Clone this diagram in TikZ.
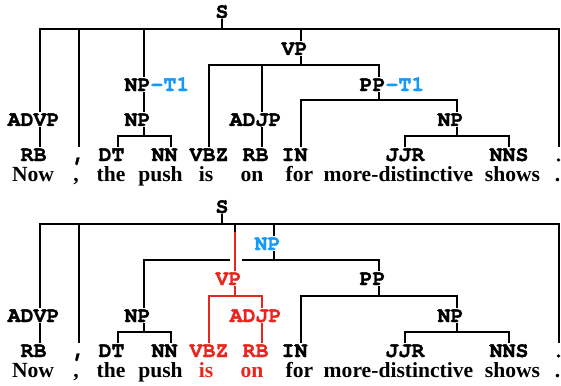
\documentclass[tikz,border=0pt]{standalone}
\usepackage{fontspec}
\usetikzlibrary{calc}
\newfontfamily\labfam{TeX Gyre Cursor}[BoldFeatures={FakeBold=1.5}]
\newfontfamily\wrdfam{Liberation Serif}
\newcommand\labfont{\labfam\bfseries\fontsize{10.8}{12}\selectfont}
\newcommand\wrdfont{\wrdfam\bfseries\fontsize{10.8}{12}\selectfont}
\newcommand\ev[1]{#1\phantom{X}}
\definecolor{tblue}{RGB}{20,155,250}
\definecolor{tred}{RGB}{232,38,30}
\tikzset{
  lab/.style={font=\labfont, inner sep=0.5pt, text height=6.5pt, text depth=0pt, anchor=base},
  wd/.style={font=\wrdfont, inner sep=0pt, anchor=base},
  edge/.style={line width=1pt},
}
\begin{document}
\begin{tikzpicture}[x=0.5pt,y=-0.5pt]
\useasboundingbox (0,0) rectangle (561,385);
% ---------------- top tree ----------------
\node[lab] (S1) at (222,18) {S};
\node[lab] (advp1) at (40,126) {\ev{ADVP}};
\node[lab] (comma1) at (79,161) {,};
\node[lab] (np1t) at (144,91) {\ev{NP\rlap{\color{tblue}-T1}}};
\node[lab] (vp1) at (301,55) {\ev{VP}};
\node[lab] (per1) at (558.5,161) {\makebox[0pt]{.}};
\node[lab] (np1) at (144,126) {\ev{NP}};
\node[lab] (vbz1) at (209,161) {VBZ};
\node[lab] (adjp1) at (262,126) {\ev{ADJP}};
\node[lab] (pp1t) at (379,91) {\ev{PP\rlap{\color{tblue}-T1}}};
\node[lab] (rb1) at (40,161) {\ev{RB}};
\node[lab] (dt1) at (118,161) {\ev{DT}};
\node[lab] (nn1) at (171,161) {\ev{NN}};
\node[lab] (rb1b) at (262,161) {\ev{RB}};
\node[lab] (in1) at (301,161) {\ev{IN}};
\node[lab] (np1b) at (457,126) {\ev{NP}};
\node[lab] (jjr1) at (405,161) {JJR};
\node[lab] (nns1) at (509,161) {NNS};
% words
\node[wd] (w1a) at (33,181) {Now};
\node[wd] (w1b) at (76,181) {,};
\node[wd] (w1c) at (111,181) {the};
\node[wd] (w1d) at (160.5,181) {push};
\node[wd] (w1e) at (206,181) {is};
\node[wd] (w1f) at (252,181) {on};
\node[wd] (w1g) at (299.5,181) {for};
\node[wd] (w1h) at (398.5,181) {more-distinctive};
\node[wd] (w1i) at (512.5,181) {shows};
\node[wd] (w1j) at (557.5,181) {.};
% edges
\draw[edge] (S1.south) -- ++(0,10) coordinate (b1);
\foreach \c in {advp1,comma1,np1t,vp1,per1} \draw[edge] (b1) -| (\c.north);
\draw[edge] (advp1.south) -- (rb1.north);
\draw[edge] (np1t.south) -- (np1.north);
\draw[edge] (np1.south) -- ++(0,9) coordinate (b2);
\foreach \c in {dt1,nn1} \draw[edge] (b2) -| (\c.north);
\draw[edge] (vp1.south) -- ++(0,9) coordinate (b3);
\foreach \c in {vbz1,adjp1,pp1t} \draw[edge] (b3) -| (\c.north);
\draw[edge] (adjp1.south) -- (rb1b.north);
\draw[edge] (pp1t.south) -- ++(0,8) coordinate (b4);
\foreach \c in {in1,np1b} \draw[edge] (b4) -| (\c.north);
\draw[edge] (np1b.south) -- ++(0,9) coordinate (b5);
\foreach \c in {jjr1,nns1} \draw[edge] (b5) -| (\c.north);
% ---------------- bottom tree ----------------
\node[lab] (S2) at (222,213) {S};
\node[lab] (advp2) at (40,322) {\ev{ADVP}};
\node[lab] (comma2) at (79,357) {,};
\node[lab,text=tred] (vp2) at (235,285) {\ev{VP}};
\node[lab,text=tblue] (npB) at (274,250) {\ev{NP}};
\node[lab] (per2) at (558.5,357) {\makebox[0pt]{.}};
\node[lab] (np2) at (144,322) {\ev{NP}};
\node[lab] (pp2) at (379,285) {\ev{PP}};
\node[lab] (rb2) at (40,357) {\ev{RB}};
\node[lab] (dt2) at (118,357) {\ev{DT}};
\node[lab] (nn2) at (171,357) {\ev{NN}};
\node[lab,text=tred] (vbz2) at (209,357) {VBZ};
\node[lab,text=tred] (adjp2) at (262,322) {\ev{ADJP}};
\node[lab,text=tred] (rb2b) at (262,357) {\ev{RB}};
\node[lab] (in2) at (301,357) {\ev{IN}};
\node[lab] (np2b) at (457,322) {\ev{NP}};
\node[lab] (jjr2) at (405,357) {JJR};
\node[lab] (nns2) at (509,357) {NNS};
% words
\node[wd] (w2a) at (33,377) {Now};
\node[wd] (w2b) at (76,377) {,};
\node[wd] (w2c) at (111,377) {the};
\node[wd] (w2d) at (160.5,377) {push};
\node[wd,text=tred] (w2e) at (206,377) {is};
\node[wd,text=tred] (w2f) at (252,377) {on};
\node[wd] (w2g) at (299.5,377) {for};
\node[wd] (w2h) at (398.5,377) {more-distinctive};
\node[wd] (w2i) at (512.5,377) {shows};
\node[wd] (w2j) at (557.5,377) {.};
% edges
\draw[edge] (S2.south) -- ++(0,10) coordinate (c1);
\foreach \c in {advp2,comma2,npB,per2} \draw[edge] (c1) -| (\c.north);
\draw[edge] (advp2.south) -- (rb2.north);
\draw[edge] (npB.south) -- ++(0,8.5) coordinate (c2);
\foreach \c in {np2,pp2} \draw[edge] (c2) -| (\c.north);
\fill[white] (230,255) rectangle (242,264);
\coordinate (vpk) at (vp2.north |- 0,232);
\draw[edge] (c1) -| (vpk);
\draw[edge,tred] (vpk) -- (vp2.north);
\draw[edge] (np2.south) -- ++(0,9) coordinate (c3);
\foreach \c in {dt2,nn2} \draw[edge] (c3) -| (\c.north);
\draw[edge,tred] (vp2.south) -- ++(0,10) coordinate (c4);
\foreach \c in {vbz2,adjp2} \draw[edge,tred] (c4) -| (\c.north);
\draw[edge,tred] (adjp2.south) -- (rb2b.north);
\draw[edge] (pp2.south) -- ++(0,10) coordinate (c5);
\foreach \c in {in2,np2b} \draw[edge] (c5) -| (\c.north);
\draw[edge] (np2b.south) -- ++(0,9) coordinate (c6);
\foreach \c in {jjr2,nns2} \draw[edge] (c6) -| (\c.north);
\end{tikzpicture}
\end{document}
